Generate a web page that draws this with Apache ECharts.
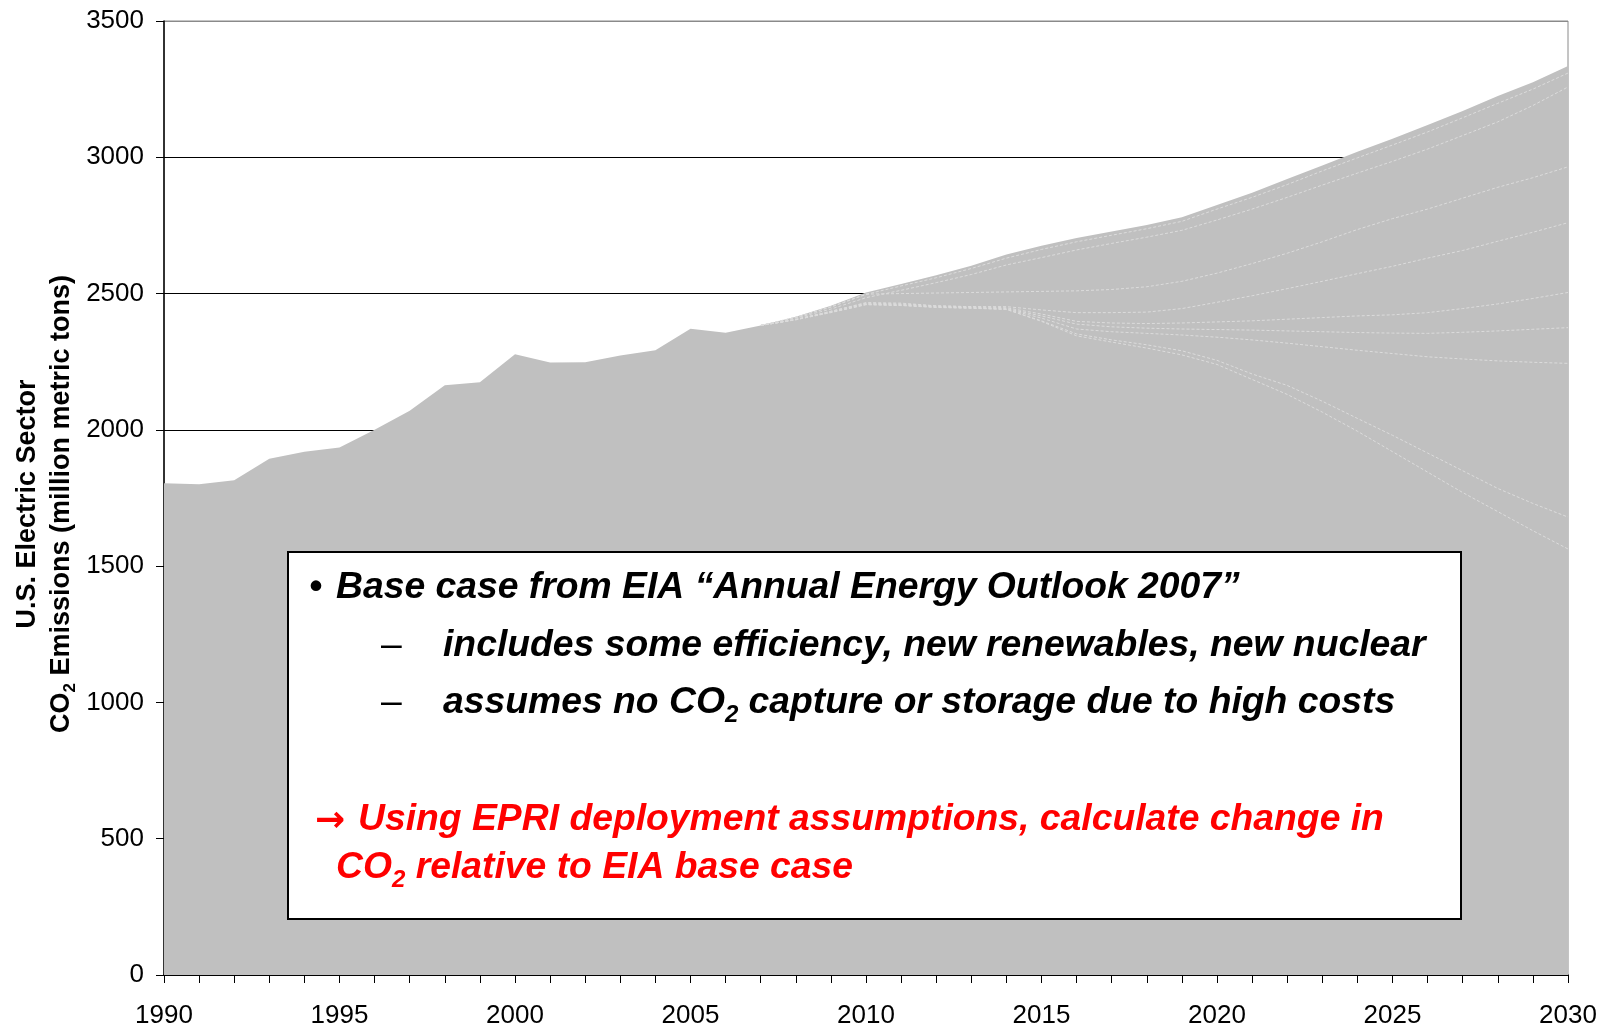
<!DOCTYPE html>
<html><head><meta charset="utf-8">
<script src="https://cdn.jsdelivr.net/npm/echarts@6/dist/echarts.min.js"></script>
<style>html,body{margin:0;padding:0;background:#fff}#c{width:1608px;height:1029px}</style>
</head><body><div id="c"></div>
<script>
var years = ['1990','1991','1992','1993','1994','1995','1996','1997','1998','1999','2000','2001','2002','2003','2004','2005','2006','2007','2008','2009','2010','2011','2012','2013','2014','2015','2016','2017','2018','2019','2020','2021','2022','2023','2024','2025','2026','2027','2028','2029','2030'];
var yTicks = [0,500,1000,1500,2000,2500,3000,3500];
// total emissions (base case outline)
var total = [1804,1800,1815,1894,1920,1935,2000,2070,2164,2175,2277,2247,2248,2273,2292,2371,2356,2383,2415,2455,2504,2535,2567,2602,2643,2675,2704,2728,2752,2780,2825,2870,2920,2970,3020,3068,3118,3170,3225,3275,3335];
// layer boundaries 2007-2030
var lineB = [2383,2413,2450,2497,2528,2558,2592,2630,2662,2690,2714,2738,2765,2810,2853,2900,2950,2998,3045,3093,3145,3198,3250,3309];
var lineC = [2383,2410,2443,2485,2512,2540,2570,2605,2632,2660,2684,2707,2732,2770,2810,2853,2898,2942,2985,3030,3080,3130,3190,3258];
var lineD = [2383,2413,2452,2498,2500,2502,2504,2506,2508,2510,2515,2525,2545,2575,2610,2648,2690,2735,2775,2810,2850,2890,2925,2965];
var lineE = [2383,2405,2435,2467,2465,2455,2452,2452,2440,2430,2430,2432,2445,2468,2492,2518,2545,2573,2600,2630,2658,2692,2725,2760];
var lineF = [2383,2405,2435,2465,2462,2455,2452,2448,2425,2398,2392,2390,2392,2396,2400,2406,2412,2418,2422,2430,2445,2462,2482,2504];
var lineG = [2383,2405,2433,2463,2460,2453,2450,2445,2418,2388,2378,2373,2370,2368,2366,2363,2360,2357,2355,2354,2358,2363,2369,2375];
var lineH = [2383,2404,2432,2461,2458,2451,2448,2443,2410,2370,2360,2354,2348,2340,2330,2318,2305,2292,2280,2268,2260,2253,2248,2244];
var lineI = [2383,2404,2431,2460,2457,2450,2447,2442,2400,2352,2330,2312,2290,2255,2205,2163,2105,2042,1980,1915,1850,1785,1730,1680];
var lineJ = [2383,2404,2430,2459,2456,2449,2446,2442,2398,2345,2322,2300,2275,2240,2185,2130,2065,1995,1920,1845,1770,1700,1630,1563];
var projStart = 17; // index of 2007

var FONT = "'Liberation Sans', Arial, Helvetica, sans-serif";
function pad(arr){ var out=[]; for(var i=0;i<projStart;i++) out.push(null); return out.concat(arr); }

var chart = echarts.init(document.getElementById('c'), null, {renderer:'canvas'});
var boundaryStyle = {color:'#dcdcdc', width:1, type:[3,2]};
var bounds = [lineB,lineC,lineD,lineE,lineF,lineG,lineH,lineI,lineJ];
var series = [{
  type:'line', data: total, symbol:'none', z:2,
  lineStyle:{width:0}, areaStyle:{color:'#C0C0C0', opacity:1}, silent:true
}];
bounds.forEach(function(b){
  series.push({type:'line', data: pad(b), symbol:'none', z:3, lineStyle: boundaryStyle, silent:true, connectNulls:false});
});

var txtBlack = {fontFamily:FONT, fontSize:37.3, fontWeight:'bold', fontStyle:'italic', fill:'#000'};
var txtRed = {fontFamily:FONT, fontSize:37.3, fontWeight:'bold', fontStyle:'italic', fill:'#FF0000'};

chart.setOption({
  animation:false,
  backgroundColor:'#fff',
  grid:{left:164, right:40, top:21, bottom:52, show:true, borderColor:'#8a8a8a', borderWidth:1, backgroundColor:'transparent'},
  xAxis:{
    type:'category', data: years, boundaryGap:false,
    axisLine:{show:true, lineStyle:{color:'#000', width:1.5}},
    axisTick:{show:true, interval:0, length:8, lineStyle:{color:'#000', width:1}},
    axisLabel:{interval:4, margin:28, color:'#000', fontSize:26, fontFamily:FONT},
    splitLine:{show:false}
  },
  yAxis:{
    type:'value', min:0, max:3500, interval:500,
    axisLine:{show:true, lineStyle:{color:'#000', width:1.5}},
    axisTick:{show:true, length:8, lineStyle:{color:'#000', width:1}},
    axisLabel:{margin:20, color:'#000', fontSize:26, fontFamily:FONT,
      formatter:function(v){ return yTicks.indexOf(v)>=0 ? String(v) : ''; }},
    splitLine:{show:true, lineStyle:{color:['#000','#000','#000','#000','#000','#000','#000','#8a8a8a'], width:1}}
  },
  series: series,
  graphic:[
    {type:'text', x:28, y:504, rotation:Math.PI/2, z:10,
      style:{text:'U.S. Electric Sector', fontFamily:FONT, fontSize:27, fontWeight:'bold', fill:'#000', align:'center', verticalAlign:'middle'}},
    {type:'text', x:62, y:504, rotation:Math.PI/2, z:10,
      style:{text:'{a|CO}{s|2}{a| Emissions (million metric tons)}', align:'center', verticalAlign:'middle',
        rich:{a:{fontFamily:FONT, fontSize:27, fontWeight:'bold', fill:'#000', lineHeight:34, verticalAlign:'middle'},
              s:{fontFamily:FONT, fontSize:17, fontWeight:'bold', fill:'#000', lineHeight:17, verticalAlign:'bottom'}}}},
    {type:'rect', z:10, shape:{x:288, y:552, width:1173, height:367},
      style:{fill:'#fff', stroke:'#000', lineWidth:2}},
    {type:'text', x:309, y:588, z:11, style:Object.assign({text:'•', verticalAlign:'middle'}, txtBlack)},
    {type:'text', x:336, y:588, z:11, style:Object.assign({text:'Base case from EIA \u201CAnnual Energy Outlook 2007\u201D', verticalAlign:'middle'}, txtBlack)},
    {type:'text', x:381, y:646, z:11, style:Object.assign({text:'\u2013', verticalAlign:'middle'}, txtBlack, {fontStyle:'normal', fontWeight:'normal'})},
    {type:'text', x:443, y:646, z:11, style:Object.assign({text:'includes some efficiency, new renewables, new nuclear', verticalAlign:'middle'}, txtBlack)},
    {type:'text', x:381, y:703, z:11, style:Object.assign({text:'\u2013', verticalAlign:'middle'}, txtBlack, {fontStyle:'normal', fontWeight:'normal'})},
    {type:'text', x:443, y:703, z:11, style:{text:'{a|assumes no CO}{s|2}{a| capture or storage due to high costs}', verticalAlign:'middle',
        rich:{a:Object.assign({lineHeight:48, verticalAlign:'middle'}, txtBlack), s:Object.assign({}, txtBlack, {fontSize:24, lineHeight:24, verticalAlign:'bottom'})}}},
    {type:'text', x:315, y:822, z:11, style:{text:'\u2192', verticalAlign:'middle', fontFamily:"'DejaVu Sans', sans-serif", fontSize:36, fontWeight:'bold', fill:'#FF0000'}},
    {type:'text', x:358, y:820, z:11, style:Object.assign({text:'Using EPRI deployment assumptions, calculate change in', verticalAlign:'middle'}, txtRed)},
    {type:'text', x:336, y:868, z:11, style:{text:'{a|CO}{s|2}{a| relative to EIA base case}', verticalAlign:'middle',
        rich:{a:Object.assign({lineHeight:48, verticalAlign:'middle'}, txtRed), s:Object.assign({}, txtRed, {fontSize:24, lineHeight:24, verticalAlign:'bottom'})}}}
  ]
});
</script></body></html>
